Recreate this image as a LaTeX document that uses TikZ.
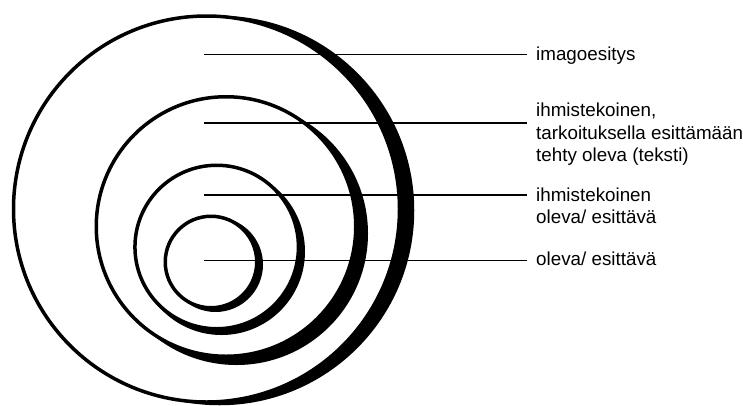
\documentclass[tikz,border=0pt]{standalone}
\usepackage{fontspec}
\setmainfont{Liberation Sans}
\begin{document}
\begin{tikzpicture}[x=1pt,y=-1pt,
  ringline/.style={draw=black,fill=white,line width=3.5pt},
  ringshadow/.style={fill=black},
  leader/.style={draw=black,line width=1.8pt},
  lbl/.style={anchor=base west,inner sep=0pt,font=\fontsize{18.8}{22.5}\selectfont}]
\useasboundingbox (0,0) rectangle (743,405);
% outer ring
\fill[ringshadow] (219.5,210.5) circle[radius=194.75];
\draw[ringline] (206.5,209) circle[radius=193];
% ring 2
\fill[ringshadow] (236.5,233.5) circle[radius=131.5];
\draw[ringline] (226,226.5) circle[radius=129.75];
% ring 3
\fill[ringshadow] (221.5,251.5) circle[radius=83.5];
\draw[ringline] (216.7,247) circle[radius=81.75];
% ring 4
\fill[ringshadow] (215.5,264.5) circle[radius=47.5];
\draw[ringline] (211,262) circle[radius=45.75];
% leader lines
\coordinate (s1) at (204,54.5);  \coordinate (e1) at (527,54.5);
\coordinate (s2) at (204,123);   \coordinate (e2) at (527,123);
\coordinate (s3) at (204,195);   \coordinate (e3) at (527,195);
\coordinate (s4) at (204,260.5); \coordinate (e4) at (527,260.5);
\draw[leader] (s1) -- (e1);
\draw[leader] (s2) -- (e2);
\draw[leader] (s3) -- (e3);
\draw[leader] (s4) -- (e4);
% labels
\node[lbl] (l1) at (536,60) {imagoesitys};
\node[lbl] (l2a) at (536,116.7) {ihmistekoinen,};
\node[lbl] (l2b) at (536,139.2) {tarkoituksella esittämään};
\node[lbl] (l2c) at (536,161.7) {tehty oleva (teksti)};
\node[lbl] (l3a) at (536,201.5) {ihmistekoinen};
\node[lbl] (l3b) at (536,223.5) {oleva/ esittävä};
\node[lbl] (l4) at (536,265.5) {oleva/ esittävä};
\end{tikzpicture}
\end{document}
